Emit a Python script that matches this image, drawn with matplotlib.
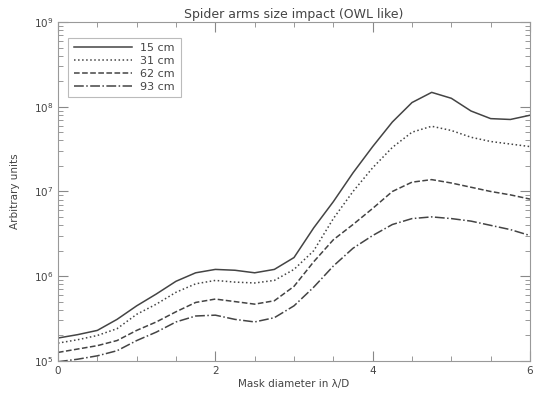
import numpy as np
import matplotlib
matplotlib.use('Agg')
from matplotlib import pyplot as plt
from matplotlib.ticker import MultipleLocator, LogLocator

# mask diameter (lambda/D)
diam = [0, 0.25, 0.5, 0.75, 1.0, 1.25, 1.5, 1.75, 2.0, 2.25, 2.5, 2.75, 3.0,
        3.25, 3.5, 3.75, 4.0, 4.25, 4.5, 4.75, 5.0, 5.25, 5.5, 5.75, 6.0]

# log10 of the signal
log_15cm = [5.27, 5.31, 5.36, 5.49, 5.65, 5.79, 5.94, 6.04, 6.08, 6.07, 6.04, 6.08, 6.22,
            6.57, 6.88, 7.22, 7.53, 7.82, 8.05, 8.17, 8.10, 7.95, 7.86, 7.85, 7.90]
log_31cm = [5.21, 5.25, 5.30, 5.38, 5.55, 5.67, 5.81, 5.91, 5.95, 5.93, 5.92, 5.95, 6.08,
            6.30, 6.68, 7.00, 7.28, 7.52, 7.70, 7.77, 7.72, 7.64, 7.59, 7.56, 7.53]
log_62cm = [5.10, 5.14, 5.18, 5.24, 5.36, 5.46, 5.58, 5.69, 5.73, 5.70, 5.67, 5.71, 5.88,
            6.17, 6.43, 6.61, 6.80, 7.00, 7.11, 7.14, 7.10, 7.05, 7.00, 6.96, 6.91]
log_93cm = [4.99, 5.02, 5.06, 5.12, 5.24, 5.34, 5.46, 5.53, 5.54, 5.49, 5.46, 5.51, 5.65,
            5.87, 6.12, 6.33, 6.48, 6.61, 6.68, 6.70, 6.68, 6.65, 6.60, 6.55, 6.48]

labels = ['15 cm', '31 cm', '62 cm', '93 cm']
styles = ['-', ':', '--', '-.']

col = '#444444'
plt.rcParams['font.family'] = 'DejaVu Sans'
fig = plt.figure(figsize=(5.37, 4.01), dpi=100)
ax = fig.add_axes([0.108, 0.1, 0.879, 0.845])

for lg, lab, ls in zip([log_15cm, log_31cm, log_62cm, log_93cm], labels, styles):
    ax.plot(diam, 10 ** np.array(lg), ls=ls, color=col, lw=1.1, label=lab)

ax.set_yscale('log')
ax.set_xlim(0, 6)
ax.set_ylim(1e5, 1e9)
ax.xaxis.set_major_locator(MultipleLocator(2))
ax.xaxis.set_minor_locator(MultipleLocator(0.5))
ax.yaxis.set_major_locator(LogLocator(base=10))
ax.yaxis.set_minor_locator(LogLocator(base=10, subs=np.arange(2, 10)))
ax.tick_params(which='both', direction='in', top=True, right=True, colors='#888888',
               labelcolor=col, labelsize=7.5)
ax.tick_params(which='major', length=7)
ax.tick_params(which='minor', length=3.5)
for s in ax.spines.values():
    s.set_color('#999999')
    s.set_linewidth(0.8)

ax.set_title('Spider arms size impact (OWL like)', fontsize=9, color=col, pad=3)
ax.set_xlabel('Mask diameter in λ/D', fontsize=7.5, color=col, labelpad=2)
ax.set_ylabel('Arbitrary units', fontsize=7.5, color=col, labelpad=10)

leg = ax.legend(loc='upper left', fontsize=8, frameon=True, fancybox=False,
                handlelength=5.2, borderpad=0.5, labelspacing=0.25,
                bbox_to_anchor=(0.01, 0.97))
leg.get_frame().set_edgecolor('#aaaaaa')
leg.get_frame().set_linewidth(0.8)
for t in leg.get_texts():
    t.set_color(col)

fig.savefig('out.png', dpi=100)
